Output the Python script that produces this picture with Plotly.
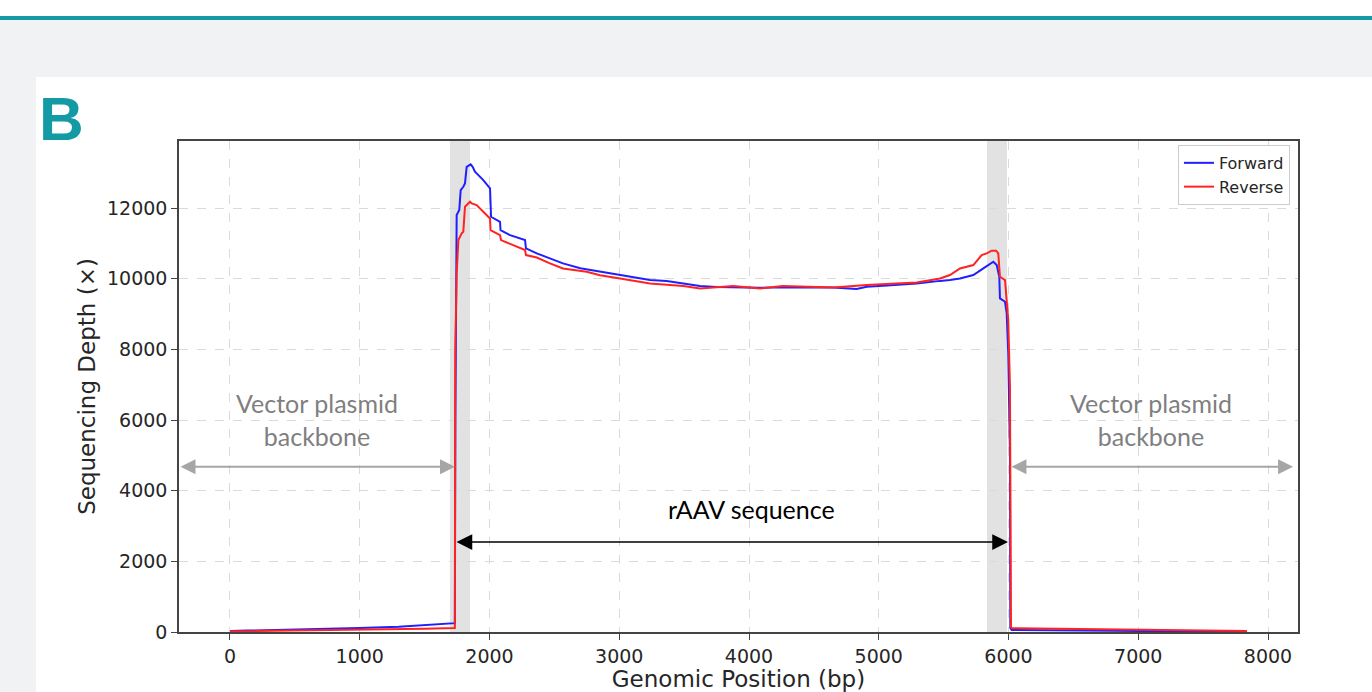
import plotly.graph_objects as go

# ---------------- data ----------------
fwd_pos = [0, 300, 600, 1000, 1300, 1500, 1650, 1733, 1737, 1742, 1747, 1767, 1778, 1798, 1811,
           1824, 1844, 1855, 1870, 1888, 1901, 1952, 2004, 2008, 2012, 2081, 2085, 2158, 2274,
           2281, 2364, 2450, 2566, 2700, 2852, 3006, 3237, 3365, 3500, 3622, 3750, 3879, 4085,
           4250, 4393, 4650, 4830, 4907, 5035, 5292, 5472, 5549, 5626, 5729, 5806, 5883, 5909,
           5929, 5934, 5973, 5986, 5998, 6011, 6014, 6024, 6300, 6551, 7000, 7500, 7836]
fwd_depth = [30, 50, 75, 110, 150, 190, 225, 250, 6000, 11095, 11802, 11945, 12510, 12604, 12698,
             13170, 13218, 13238, 13170, 13030, 12983, 12794, 12558, 12000, 11755, 11613, 11378, 11236, 11095,
             10860, 10718, 10600, 10435, 10300, 10199, 10105, 9963, 9935, 9850, 9793, 9770, 9756, 9745,
             9760, 9756, 9756, 9708, 9774, 9802, 9868, 9940, 9963, 10010, 10105, 10293, 10482, 10388,
             10057, 9444, 9349, 9019, 7887, 5066, 113, 57, 45, 37, 30, 22, 18]

rev_pos = [0, 500, 1000, 1500, 1733, 1736, 1747, 1760, 1786, 1798, 1811, 1850, 1863, 1901, 1952,
           2004, 2008, 2081, 2089, 2274, 2281, 2364, 2466, 2566, 2749, 2852, 3006, 3237, 3494,
           3622, 3879, 4085, 4262, 4650, 4907, 5292, 5472, 5549, 5626, 5729, 5793, 5832, 5870,
           5904, 5921, 5934, 5973, 5986, 5998, 6011, 6013, 6019, 6024, 6500, 7065, 7836]
rev_depth = [20, 40, 57, 90, 110, 8000, 10152, 11095, 11284, 11331, 12038, 12180, 12133, 12086, 11897,
             11708, 11378, 11236, 11095, 10812, 10671, 10600, 10435, 10293, 10200, 10100, 10010, 9868, 9793,
             9727, 9793, 9727, 9793, 9756, 9821, 9896, 10010, 10105, 10293, 10388, 10671, 10718, 10794,
             10794, 10718, 10057, 9963, 9208, 8831, 6943, 1047, 142, 105, 80, 57, 28]

itr_bands = [(1695, 1850), (5834, 5988)]
x_ticks = [0, 1000, 2000, 3000, 4000, 5000, 6000, 7000, 8000]
y_ticks = [0, 2000, 4000, 6000, 8000, 10000, 12000]
x_tick_labels = [str(v) for v in x_ticks]
y_tick_labels = [str(v) for v in y_ticks]
raav_start, raav_end = 1734, 5996
backbone_left = (-393, 1734)
backbone_right = (6011, 8193)

# ---------------- figure ----------------
fig = go.Figure()
fig.add_trace(go.Scatter(x=fwd_pos, y=fwd_depth, mode="lines", name="Forward",
                         line=dict(color="#1f1fff", width=2)))
fig.add_trace(go.Scatter(x=rev_pos, y=rev_depth, mode="lines", name="Reverse",
                         line=dict(color="#ff2222", width=2)))

shapes = []
# page decoration
shapes.append(dict(type="rect", xref="paper", yref="paper", x0=-0.2, x1=1.1, y0=1.2464, y1=1.2546,
                   fillcolor="#139aa5", line=dict(width=0), layer="below"))
shapes.append(dict(type="rect", xref="paper", yref="paper", x0=-0.2, x1=1.1, y0=1.2546, y1=1.3,
                   fillcolor="white", line=dict(width=0), layer="below"))
shapes.append(dict(type="rect", xref="paper", yref="paper", x0=-0.1278, x1=1.1, y0=-0.2, y1=1.1303,
                   fillcolor="white", line=dict(width=0), layer="below"))
for b0, b1 in itr_bands:
    shapes.append(dict(type="rect", xref="x", yref="paper", x0=b0, x1=b1, y0=0, y1=1,
                       fillcolor="#e2e2e2", line=dict(width=0), layer="below"))

annotations = []
annotations.append(dict(text="<b>B</b>", xref="paper", yref="paper", x=-0.1265, y=1.0468,
                        xanchor="left", yanchor="middle", showarrow=False,
                        font=dict(family="Liberation Sans", size=62, color="#139aa5")))
gray = "#a6a6a6"
for (a, b) in [backbone_left, backbone_right]:
    annotations.append(dict(x=b, y=4680, ax=a, ay=4680, xref="x", yref="y", axref="x", ayref="y",
                            text="", showarrow=True, arrowhead=2, arrowside="end+start",
                            arrowsize=1.5, arrowwidth=2, arrowcolor=gray, standoff=0, startstandoff=0))
annotations.append(dict(x=raav_end, y=2547, ax=raav_start, ay=2547, xref="x", yref="y", axref="x", ayref="y",
                        text="", showarrow=True, arrowhead=2, arrowside="end+start",
                        arrowsize=2.1, arrowwidth=1.5, arrowcolor="black", standoff=0, startstandoff=0))
for xc in [670, 7098]:
    annotations.append(dict(x=xc, y=6010, xref="x", yref="y", text="Vector plasmid<br>backbone",
                            showarrow=False, font=dict(family="Lato", size=25, color="#7f7f7f")))
annotations.append(dict(x=4023, y=3481, xref="x", yref="y", text="rAAV sequence",
                        showarrow=False, font=dict(family="Lato", size=25, color="black")))

axis_common = dict(showline=True, linecolor="#444444", linewidth=1.5, mirror=True,
                   ticks="outside", ticklen=6, tickwidth=1.3, tickcolor="#444444",
                   showgrid=True, gridcolor="#dadada", griddash="dash", gridwidth=1,
                   zeroline=False, automargin=False,
                   tickfont=dict(family="DejaVu Sans", size=19, color="#262626"))

fig.update_layout(
    width=1372, height=692,
    margin=dict(l=179, r=74, t=141, b=60),
    paper_bgcolor="#f1f2f4", plot_bgcolor="white",
    font=dict(family="DejaVu Sans", color="#262626"),
    shapes=shapes, annotations=annotations,
    showlegend=True,
    legend=dict(x=0.9928, y=0.992, xanchor="right", yanchor="top",
                bgcolor="white", bordercolor="#cccccc", borderwidth=1,
                font=dict(family="DejaVu Sans", size=16, color="#262626"),
                itemwidth=30, tracegroupgap=0),
    xaxis=dict(range=[-393, 8231], tickmode="array", tickvals=x_ticks, ticktext=x_tick_labels,
               title=dict(text="Genomic Position (bp)", font=dict(size=23), standoff=7),
               **axis_common),
    yaxis=dict(range=[0, 13900], tickmode="array", tickvals=y_ticks, ticktext=y_tick_labels,
               title=dict(text="Sequencing Depth (×)", font=dict(size=23), standoff=5),
               **axis_common),
)

fig.write_html("out.html", config={"displayModeBar": False},
               post_script="document.body.style.margin='0';document.body.style.overflow='hidden';")
